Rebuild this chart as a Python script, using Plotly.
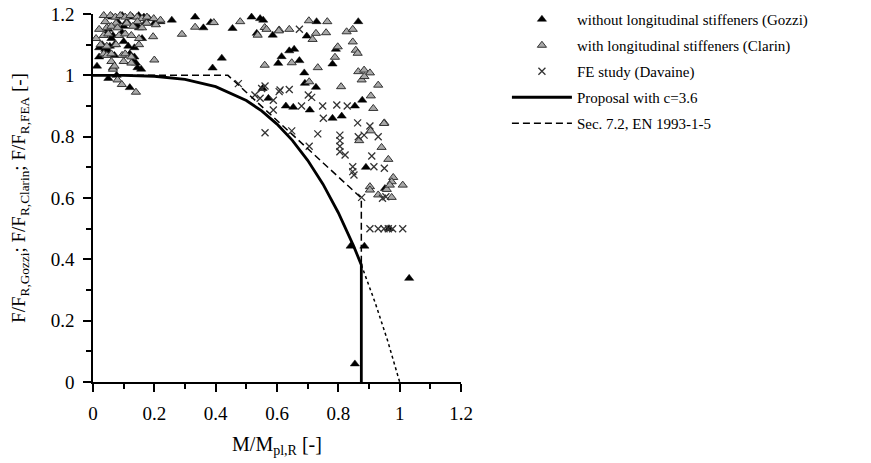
import plotly.graph_objects as go

# ---- data ----
gozzi_x = [0.013,0.02,0.02,0.03,0.04,0.05,0.055,0.07,0.06,0.062,0.095,0.128,0.149,0.166,0.182,0.257,0.05,0.1,0.14,0.15,
           0.045,0.065,0.095,0.115,0.135,0.07,0.12,0.135,0.14,0.13,0.065,0.145,0.157,0.05,0.077,0.12,0.08,0.11,0.17,0.2,0.22,0.1,0.16,
           0.333,0.36,0.384,0.455,0.517,0.545,0.555,0.534,0.586,0.697,0.729,0.865,
           0.39,0.42,0.604,0.615,0.64,0.656,0.673,0.689,0.792,0.781,
           0.553,0.572,0.691,0.727,0.878,0.811,0.781,0.854,0.707,0.629,0.653,
           0.89,0.952,0.965,0.84,0.885,1.031,0.854]
gozzi_y = [1.03,1.09,1.06,1.10,1.085,1.08,1.095,1.10,1.12,1.19,1.195,1.19,1.195,1.19,1.185,1.18,1.15,1.16,1.165,1.155,
           1.135,1.13,1.14,1.095,1.09,1.065,1.07,1.06,1.04,1.045,1.025,1.025,1.02,0.99,1.0,0.96,1.175,1.175,1.17,1.17,1.175,1.11,1.12,
           1.19,1.155,1.172,1.153,1.19,1.185,1.18,1.137,1.131,1.128,1.175,1.175,
           1.024,1.056,1.039,1.061,1.08,1.085,1.048,1.008,1.085,1.037,
           0.957,0.925,0.974,0.961,0.919,0.867,0.86,0.90,0.887,0.90,0.896,
           0.70,0.631,0.50,0.443,0.443,0.338,0.059]

clarin_x = [0.035,0.057,0.073,0.089,0.105,0.122,0.144,0.16,0.176,0.198,0.22,0.04,0.075,0.11,0.145,0.175,0.205,0.045,0.06,0.08,
            0.13,0.16,0.035,0.05,0.085,0.105,0.125,0.15,0.196,0.29,0.025,0.045,0.075,0.15,0.035,0.045,0.06,0.095,0.105,0.125,
            0.06,0.1,0.125,0.2,0.065,0.07,0.08,0.094,0.14,0.01,0.02,
            0.333,0.394,0.48,0.56,0.56,0.537,0.607,
            0.704,0.764,0.827,0.847,0.64,0.606,0.566,0.716,0.727,0.76,
            0.648,0.733,0.798,0.847,0.857,0.863,0.789,0.865,0.884,0.903,0.876,0.885,
            0.705,0.809,0.93,0.906,0.914,0.95,
            0.868,0.905,0.949,0.941,0.963,0.979,0.974,1.01,0.903,0.903,0.958,0.968,0.93,0.974]
clarin_y = [1.195,1.195,1.19,1.195,1.19,1.195,1.19,1.185,1.19,1.185,1.18,1.175,1.17,1.17,1.175,1.17,1.165,1.155,1.16,1.155,
            1.16,1.155,1.13,1.135,1.13,1.135,1.13,1.12,1.126,1.134,1.10,1.095,1.10,1.10,1.07,1.065,1.07,1.065,1.07,1.06,
            1.045,1.045,1.04,1.05,1.02,1.03,0.985,0.97,0.945,1.12,1.15,
            1.157,1.172,1.175,1.156,1.033,1.131,1.148,
            1.178,1.175,1.142,1.15,1.15,1.145,1.15,1.117,1.137,1.139,
            1.041,1.025,1.093,1.109,1.082,1.072,1.059,1.012,1.017,1.008,0.985,0.996,
            0.979,0.963,0.968,0.933,0.892,0.845,
            0.787,0.819,0.843,0.765,0.726,0.667,0.653,0.642,0.637,0.626,0.628,0.642,0.61,0.602]

fe_x = [0.673,0.474,0.528,0.545,0.55,0.61,
        0.863,0.903,0.751,0.749,0.795,0.829,0.68,0.713,0.702,0.607,0.64,0.561,0.588,0.588,
        0.561,0.648,0.733,0.705,0.805,0.805,0.805,0.805,0.822,0.865,0.884,0.93,0.909,0.916,0.95,
        0.847,0.847,0.851,0.944,0.955,0.876,
        0.903,0.93,0.949,0.963,0.977,1.01]
fe_y = [1.15,0.973,0.936,0.925,0.957,0.952,
        0.845,0.835,0.86,0.90,0.903,0.90,0.90,0.928,0.936,0.947,0.954,0.965,0.919,0.887,
        0.813,0.819,0.809,0.769,0.805,0.787,0.769,0.751,0.74,0.80,0.805,0.80,0.737,0.702,0.697,
        0.702,0.686,0.675,0.599,0.604,0.602,
        0.50,0.50,0.50,0.50,0.50,0.50]

prop_x = [0, 0.1, 0.2, 0.3, 0.4, 0.5, 0.55, 0.6, 0.65, 0.7, 0.75, 0.8, 0.85, 0.875, 0.875]
prop_y = [1.0, 1.0, 0.997, 0.987, 0.963, 0.918, 0.884, 0.841, 0.788, 0.723, 0.645, 0.552, 0.443, 0.382, 0.0]

ext_x = [0.875, 0.92, 0.96, 1.0]
ext_y = [0.382, 0.259, 0.137, 0.0]

ec_x = [0, 0.44, 0.875, 0.875]
ec_y = [1.0, 1.0, 0.6, 0.38]

x_ticks = [0, 0.2, 0.4, 0.6, 0.8, 1, 1.2]
y_ticks = [0, 0.2, 0.4, 0.6, 0.8, 1, 1.2]

FONT = "Liberation Serif, Times New Roman, serif"

fig = go.Figure()
fig.add_trace(go.Scatter(x=gozzi_x, y=gozzi_y, mode="markers", name="without longitudinal stiffeners (Gozzi)",
                         legendgroup="a", cliponaxis=False,
                         marker=dict(symbol="triangle-up", size=8, color="black", line=dict(color="black", width=0.5))))
fig.add_trace(go.Scatter(x=clarin_x, y=clarin_y, mode="markers", name="with longitudinal stiffeners (Clarin)",
                         legendgroup="b", cliponaxis=False,
                         marker=dict(symbol="triangle-up", size=8, color="#a8a8a8", line=dict(color="#333333", width=1))))
fig.add_trace(go.Scatter(x=fe_x, y=fe_y, mode="markers", name="FE study (Davaine)",
                         legendgroup="c", cliponaxis=False,
                         marker=dict(symbol="x-thin", size=7, color="#333333", line=dict(color="#333333", width=1.3))))
fig.add_trace(go.Scatter(x=prop_x, y=prop_y, mode="lines", name="Proposal with c=3.6",
                         legendgroup="d", line=dict(color="black", width=2.8)))
fig.add_trace(go.Scatter(x=ec_x, y=ec_y, mode="lines", name="Sec. 7.2, EN 1993-1-5",
                         legendgroup="e", line=dict(color="black", width=1.5, dash="7px,4px")))
fig.add_trace(go.Scatter(x=ext_x, y=ext_y, mode="lines", showlegend=False,
                         line=dict(color="black", width=1.5, dash="dot")))

axis_common = dict(showgrid=False, zeroline=False, showline=True, linecolor="black", linewidth=1.5,
                   ticks="outside", ticklen=8, tickwidth=1.5, tickcolor="black", automargin=False,
                   tickfont=dict(family=FONT, size=19, color="black"),
                   minor=dict(ticks="outside", ticklen=5, tickwidth=1.5, tickcolor="black", dtick=0.1))

fig.update_xaxes(range=[0, 1.2], tickvals=x_ticks, ticktext=[str(v) for v in x_ticks],
                 ticklabelstandoff=5,
                 title=dict(text="M/M<sub>pl,R</sub> [-]", font=dict(family=FONT, size=20, color="black"), standoff=14),
                 **axis_common)
fig.update_yaxes(range=[0, 1.2], tickvals=y_ticks, ticktext=[str(v) for v in y_ticks],
                 ticklabelstandoff=5,
                 title=dict(text="F/F<sub>R,Gozzi</sub>; F/F<sub>R,Clarin</sub>; F/F<sub>R,FEA</sub> [-]",
                            font=dict(family=FONT, size=19, color="black"), standoff=20),
                 **axis_common)

fig.update_layout(
    width=871, height=463,
    margin=dict(l=93, r=410, t=14, b=81, autoexpand=False),
    plot_bgcolor="white", paper_bgcolor="white",
    font=dict(family=FONT, color="black"),
    legend=dict(xref="container", yref="container", x=0.582, y=0.9935, xanchor="left", yanchor="top",
                font=dict(family=FONT, size=15, color="black"),
                itemwidth=60,
                tracegroupgap=3.5, bgcolor="rgba(0,0,0,0)"),
)

fig.write_html("out.html", config={"displayModeBar": False},
               post_script="document.body.style.margin='0';document.body.style.overflow='hidden';")
